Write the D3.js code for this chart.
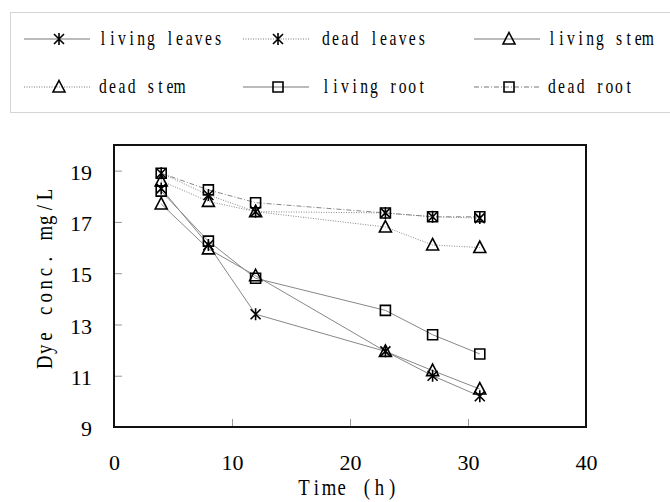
<!DOCTYPE html>
<html>
<head>
<meta charset="utf-8">
<script src="https://cdn.jsdelivr.net/npm/d3@7"></script>
<style>
    body { margin: 0; background: #fff; }
    svg { display: block; }
</style>
</head>
<body>
<script>
"use strict";

const WIDTH = 670;
const HEIGHT = 502;
const PLOT = { left: 114, top: 145, right: 586, bottom: 427 };

const SERIF = "'Liberation Serif', 'DejaVu Serif', serif";

// data
const times = [4, 8, 12, 23, 27, 31];
const livingLeaves = [18.3, 16.1, 13.4, 11.95, 11.0, 10.2];
const deadLeaves = [18.9, 18.05, 17.4, 17.35, 17.2, 17.15];
const livingStem = [17.7, 15.95, 14.9, 11.95, 11.2, 10.48];
const deadStem = [18.6, 17.8, 17.4, 16.8, 16.1, 16.0];
const livingRoot = [18.2, 16.25, 14.8, 13.55, 12.6, 11.85];
const deadRoot = [18.9, 18.25, 17.75, 17.35, 17.2, 17.2];

const xTicks = [0, 10, 20, 30, 40];
const yTicks = [9, 11, 13, 15, 17, 19];

const series = [
    { name: "living leaves", values: livingLeaves, marker: "asterisk", dash: null },
    { name: "dead leaves", values: deadLeaves, marker: "asterisk", dash: "1,1.5" },
    { name: "living stem", values: livingStem, marker: "triangle", dash: null },
    { name: "dead stem", values: deadStem, marker: "triangle", dash: "1,1.5" },
    { name: "living root", values: livingRoot, marker: "square", dash: null },
    { name: "dead root", values: deadRoot, marker: "square", dash: "5,2,1,2" }
];

const svg = d3.select("body")
    .append("svg")
    .attr("width", WIDTH)
    .attr("height", HEIGHT);

const x = d3.scaleLinear().domain([0, 40]).range([PLOT.left, PLOT.right]);
const y = d3.scaleLinear().domain([9, 20]).range([PLOT.bottom, PLOT.top]);

renderLegend();
renderAxes();
renderSeries();
renderFrame();

function markerPath(type) {
    switch (type) {
        case "asterisk":
            return "M-5,-5L5,5M-5,5L5,-5M0,-6L0,6";
        case "triangle":
            return "M0,-6.5L6,5L-6,5Z";
        default:
            return "M-5,-5L5,-5L5,5L-5,5Z";
    }
}

function drawMarker(g, type, cx, cy) {
    g.append("path")
        .attr("transform", `translate(${cx},${cy})`)
        .attr("d", markerPath(type))
        .attr("fill", "none")
        .attr("stroke", "#000")
        .attr("stroke-width", 1.6);
}

// narrow half-width look: glyphs squeezed, each character on a fixed pitch
function monoText(g, str, start, baseline, pitch, fontSize, squeeze) {
    const sx = squeeze || 0.78;
    const xs = Array.from(str, (_, i) => ((pitch * (i + 0.5)) / sx).toFixed(1));
    return g.append("g")
        .attr("transform", `translate(${start},${baseline}) scale(${sx},1)`)
        .append("text")
        .attr("x", xs.join(" "))
        .attr("y", 0)
        .attr("text-anchor", "middle")
        .attr("font-family", SERIF)
        .attr("font-size", fontSize)
        .attr("fill", "#000")
        .text(str);
}

function renderLegend() {
    const legend = svg.append("g").classed("legend", true);

    legend.append("rect")
        .attr("x", 10.5)
        .attr("y", 12.5)
        .attr("width", 680)
        .attr("height", 100)
        .attr("fill", "none")
        .attr("stroke", "#aaa")
        .attr("stroke-dasharray", "1,1");

    const columns = [24, 243, 474];
    const textStarts = [98, 321, 547];
    const rows = [39, 87];

    series.forEach((s, i) => {
        const lx = columns[i % 3];
        const ly = rows[Math.floor(i / 3)];
        const item = legend.append("g");

        item.append("line")
            .attr("x1", lx)
            .attr("x2", lx + 66)
            .attr("y1", ly)
            .attr("y2", ly)
            .attr("stroke", "#777")
            .attr("stroke-width", 1)
            .attr("stroke-dasharray", s.dash);

        drawMarker(item, s.marker, lx + 35, ly);

        monoText(item, s.name, textStarts[i % 3], ly + 6, 9.6, 20);
    });
}

function renderAxes() {
    const xAxis = d3.axisBottom(x)
        .tickValues(xTicks)
        .tickSizeInner(-8)
        .tickSizeOuter(0)
        .tickPadding(27)
        .tickFormat(d3.format("d"));

    const yAxis = d3.axisLeft(y)
        .tickValues(yTicks)
        .tickSizeInner(-8)
        .tickSizeOuter(0)
        .tickPadding(22)
        .tickFormat(d3.format("d"));

    const gx = svg.append("g")
        .attr("transform", `translate(0,${PLOT.bottom})`)
        .call(xAxis);

    const gy = svg.append("g")
        .attr("transform", `translate(${PLOT.left},0)`)
        .call(yAxis);

    [gx, gy].forEach(g => {
        g.select(".domain").remove();
        g.selectAll(".tick line").attr("stroke", "#999");
        g.selectAll(".tick text")
            .attr("font-family", SERIF)
            .attr("font-size", 22)
            .attr("fill", "#000");
    });
    gy.selectAll(".tick text").attr("dy", "0.4em");

    // axis titles
    const xTitle = "Time (h)";
    monoText(svg, xTitle, 348 - (xTitle.length * 12.6) / 2, 495, 12.6, 24);

    const yTitle = "Dye conc.  mg/L";
    const yTitleGroup = svg.append("g")
        .attr("transform", `translate(52,272) rotate(-90)`);
    monoText(yTitleGroup, yTitle, -(yTitle.length * 12.9) / 2, 0, 12.9, 24);
}

function renderSeries() {
    const line = d3.line()
        .x((_, i) => x(times[i]))
        .y(d => y(d));

    const lines = svg.append("g").classed("lines", true);
    series.forEach(s => {
        lines.append("path")
            .attr("d", line(s.values))
            .attr("fill", "none")
            .attr("stroke", "#888")
            .attr("stroke-width", 1)
            .attr("stroke-dasharray", s.dash);
    });

    const markers = svg.append("g").classed("markers", true);
    series.forEach(s => {
        s.values.forEach((v, i) => drawMarker(markers, s.marker, x(times[i]), y(v)));
    });
}

function renderFrame() {
    svg.append("rect")
        .attr("x", PLOT.left)
        .attr("y", PLOT.top)
        .attr("width", PLOT.right - PLOT.left)
        .attr("height", PLOT.bottom - PLOT.top)
        .attr("fill", "none")
        .attr("stroke", "#111")
        .attr("stroke-width", 2);
}
</script>
</body>
</html>
